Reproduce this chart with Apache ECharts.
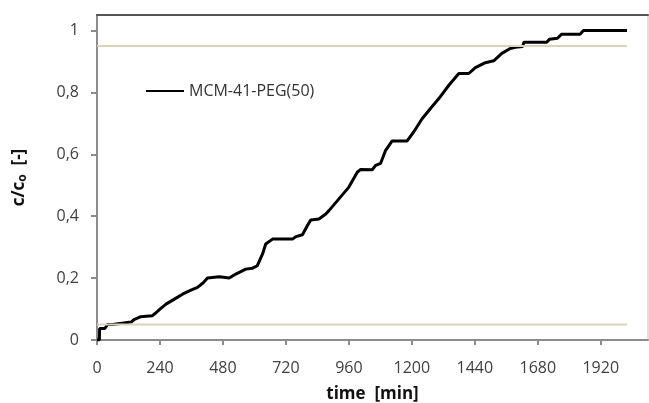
<!DOCTYPE html>
<html>
<head>
<meta charset="utf-8">
<script src="https://cdn.jsdelivr.net/npm/echarts@6/dist/echarts.min.js"></script>
<style>
html, body { margin: 0; padding: 0; background: #fff; }
#chart { width: 649px; height: 403px; }
</style>
</head>
<body>
<div id="chart"></div>
<script>
const seriesName = 'MCM-41-PEG(50)'
const times = [0, 9, 10, 30, 40, 60, 63, 130, 143, 165, 210, 225, 240, 263, 295, 326, 358, 383, 405, 421, 466, 504, 529, 567, 593, 611, 631, 643, 669, 745, 758, 783, 802, 815, 846, 872, 884, 922, 960, 992, 1005, 1049, 1062, 1081, 1100, 1125, 1182, 1207, 1239, 1271, 1303, 1341, 1379, 1417, 1442, 1480, 1512, 1543, 1575, 1594, 1622, 1627, 1714, 1725, 1755, 1771, 1841, 1854, 2020]
const ratio = [0, 0, 0.037, 0.037, 0.05, 0.05, 0.056, 0.058, 0.067, 0.075, 0.078, 0.088, 0.1, 0.116, 0.132, 0.148, 0.161, 0.17, 0.185, 0.2, 0.204, 0.2, 0.213, 0.229, 0.232, 0.24, 0.278, 0.31, 0.326, 0.326, 0.334, 0.34, 0.37, 0.388, 0.391, 0.407, 0.418, 0.456, 0.494, 0.542, 0.551, 0.55, 0.564, 0.571, 0.613, 0.643, 0.643, 0.672, 0.715, 0.748, 0.78, 0.823, 0.861, 0.861, 0.88, 0.896, 0.902, 0.926, 0.942, 0.946, 0.948, 0.962, 0.962, 0.972, 0.975, 0.988, 0.988, 1.0, 1.0]
// limit lines 5 % and 95 %
const limitLow = 0.05
const limitHigh = 0.95
const limitRange = [0, 2020]
const xTicks = [0, 240, 480, 720, 960, 1200, 1440, 1680, 1920]
const yTicks = [0, 0.2, 0.4, 0.6, 0.8, 1]

const font = '"Open Sans", sans-serif'
const axisGrey = '#8c8c8c'
const labelColor = '#404040'

let chart = echarts.init(document.getElementById('chart'))

let curve = times.map((t, i) => [t, ratio[i]])

let option = {
  animation: false,
  backgroundColor: '#fff',
  grid: {
    left: 97, right: 1, top: 15, bottom: 63,
    outerBoundsMode: 'none',
    show: true, borderColor: '#c0c0c0', borderWidth: 1
  },
  legend: {
    data: [seriesName],
    left: 140,
    top: 78,
    itemWidth: 38,
    itemHeight: 14,
    itemStyle: {opacity: 0},
    textStyle: {fontFamily: font, fontSize: 16, color: '#333'}
  },
  xAxis: [{
    type: 'value',
    min: 0,
    max: 2100,
    name: 'time  [min]',
    nameLocation: 'middle',
    nameGap: 46,
    nameTextStyle: {fontFamily: font, fontSize: 17, fontWeight: 'bold', color: '#111'},
    axisLine: {lineStyle: {color: axisGrey, width: 2}},
    axisTick: {length: 5, customValues: xTicks, lineStyle: {color: axisGrey, width: 2}},
    axisLabel: {customValues: xTicks, margin: 20, fontFamily: font, fontSize: 16, color: labelColor, formatter: v => String(v)},
    splitLine: {show: false}
  }, {
    type: 'value',
    position: 'top',
    min: 0,
    max: 2100,
    axisLine: {show: true, lineStyle: {color: '#555', width: 2}},
    axisTick: {show: false},
    axisLabel: {show: false},
    splitLine: {show: false}
  }],
  yAxis: {
    type: 'value',
    min: 0,
    max: 1.05,
    name: '{a|c/c}{s|o}{a|  [-]}',
    nameLocation: 'middle',
    nameGap: 68,
    nameTextStyle: {
      rich: {
        a: {fontFamily: font, fontSize: 17, fontWeight: 'bold', color: '#111'},
        s: {fontFamily: font, fontSize: 12, fontWeight: 'bold', color: '#111', verticalAlign: 'bottom', padding: [8, 0, 0, 0]}
      }
    },
    axisLine: {show: true, lineStyle: {color: axisGrey, width: 2}},
    axisTick: {show: true, length: 6, customValues: yTicks, lineStyle: {color: axisGrey, width: 2}},
    axisLabel: {
      customValues: yTicks,
      margin: 18,
      fontFamily: font,
      fontSize: 16,
      color: labelColor,
      formatter: v => String(v).replace('.', ',')
    },
    splitLine: {show: false}
  },
  series: [{
    name: seriesName,
    type: 'line',
    data: curve,
    symbol: 'none',
    lineStyle: {color: '#000', width: 3},
    itemStyle: {color: '#000'}
  }, {
    name: 'low',
    type: 'line',
    data: limitRange.map(t => [t, limitLow]),
    symbol: 'none',
    lineStyle: {color: '#d8d3bd', width: 2},
    z: 3
  }, {
    name: 'high',
    type: 'line',
    data: limitRange.map(t => [t, limitHigh]),
    symbol: 'none',
    lineStyle: {color: '#d8d3bd', width: 2},
    z: 3
  }]
}
chart.setOption(option)
</script>
</body>
</html>
